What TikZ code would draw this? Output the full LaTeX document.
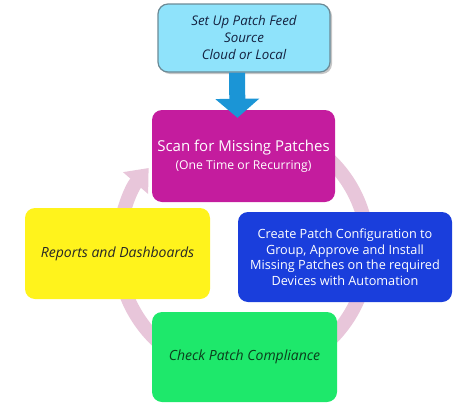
\documentclass[tikz,border=0pt]{standalone}
\usepackage{fontspec}
\setmainfont{Open Sans}
\usetikzlibrary{arrows.meta,shadows}
\definecolor{topfill}{HTML}{8FE3FB}
\definecolor{topedge}{HTML}{6B8A96}
\definecolor{arrowblue}{HTML}{1B95D6}
\definecolor{magentabox}{HTML}{C41C9E}
\definecolor{yellowbox}{HTML}{FFF31C}
\definecolor{bluebox}{HTML}{1A3EDC}
\definecolor{greenbox}{HTML}{1EE86B}
\definecolor{ringpink}{HTML}{E8C6DA}
\definecolor{toptext}{HTML}{14213F}
\definecolor{greentext}{HTML}{0B3D1C}
\tikzset{
  stepbox/.style={rectangle, rounded corners=10pt, align=center, inner sep=2pt},
}
\begin{document}
\begin{tikzpicture}[x=1pt,y=-1pt]
\useasboundingbox (0,0) rectangle (474,407);
% ring
\coordinate (ringc) at (243,250);
\draw[ringpink, line width=14pt, -{Triangle[width=32pt,length=20pt]}]
  (ringc) ++(-55:125) arc[start angle=-55, end angle=221, radius=125];
% boxes
\node[stepbox, fill=topfill, draw=topedge, line width=1.2pt,
      drop shadow={shadow xshift=2pt, shadow yshift=-2pt, opacity=0.45},
      minimum width=172pt, minimum height=68pt,
      text=toptext, font=\fontsize{13.3}{17}\selectfont\itshape]
  (feed) at (244,38) {Set Up Patch Feed\\Source\\Cloud or Local};
\node[stepbox, fill=magentabox, minimum width=183pt, minimum height=92pt,
      text=white]
  (scan) at (243.5,156) {{\fontsize{15}{20}\selectfont Scan for Missing Patches}\\[4pt]{\fontsize{12.2}{15}\selectfont (One Time or Recurring)}};
\node[stepbox, fill=yellowbox, minimum width=185pt, minimum height=91pt,
      text=black!85, font=\fontsize{14}{17}\selectfont\itshape]
  (reports) at (117.5,253.5) {Reports and Dashboards};
\node[stepbox, fill=bluebox, minimum width=214pt, minimum height=90pt,
      text=white, font=\fontsize{12.7}{15.6}\selectfont]
  (create) at (345,257) {Create Patch Configuration to\\Group, Approve and Install\\Missing Patches on the required\\Devices with Automation};
\node[stepbox, fill=greenbox, minimum width=185pt, minimum height=90pt,
      text=greentext, font=\fontsize{14}{17}\selectfont\itshape]
  (check) at (244.5,357) {Check Patch Compliance};
% feed arrow
\draw[arrowblue, line width=16pt, -{Triangle[width=43pt,length=19pt]}]
  ([xshift=-7pt]feed.south) -- ([xshift=-6pt,yshift=-8pt]scan.north);
\end{tikzpicture}
\end{document}
